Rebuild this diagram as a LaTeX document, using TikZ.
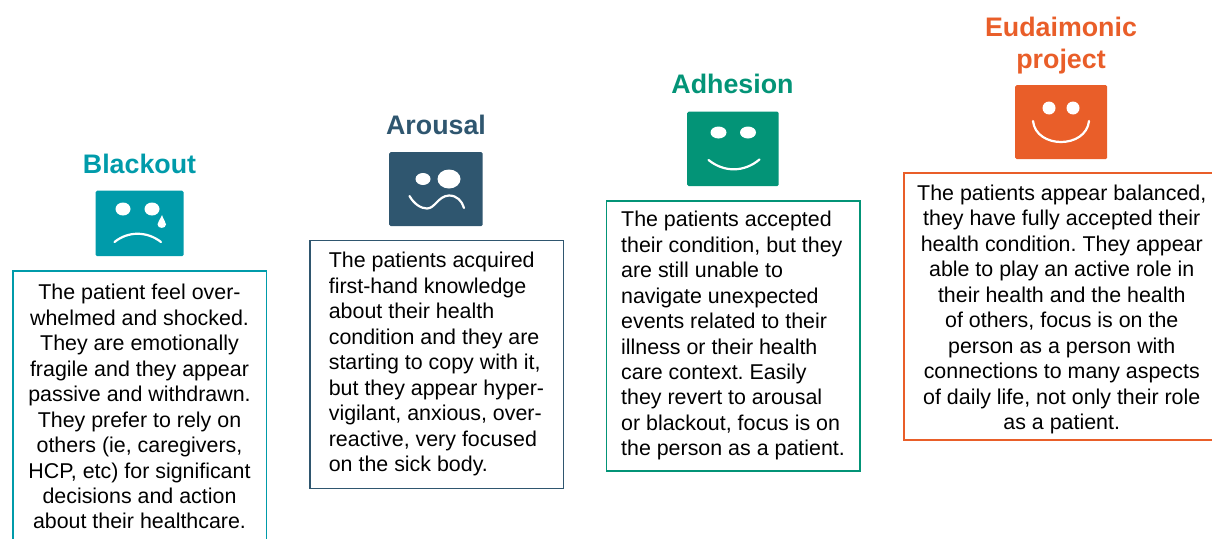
\documentclass[tikz,border=0pt]{standalone}
\usepackage{fontspec}
\setmainfont{Liberation Sans}
\definecolor{cteal}{HTML}{009BAA}
\definecolor{cnavy}{HTML}{2F566F}
\definecolor{cgreen}{HTML}{039477}
\definecolor{corange}{HTML}{E95E29}
\tikzset{
  title/.style={font=\fontsize{26.8}{32.5}\selectfont\bfseries, inner sep=0pt, anchor=base, align=center},
  icon/.style={fill=#1, rounded corners=1.5pt, inner sep=0pt, anchor=north west},
  textbox/.style={draw=#1, line width=1.5pt, anchor=north west, minimum width=253.5pt, inner sep=0pt,
     font=\fontsize{21.4}{25.45}\selectfont\frenchspacing, text=black},
  eye/.style={fill=white},
  mouth/.style={draw=white, line width=2.2pt, line cap=round}
}
\begin{document}
\begin{tikzpicture}[x=1pt,y=-1pt]
\useasboundingbox (0,0) rectangle (1212,538);
\clip (0,0) rectangle (1212,538);
% Blackout
\node[title, text=cteal] (t1) at (139.5,173) {Blackout};
\node[icon=cteal, minimum width=88pt, minimum height=65.5pt] (i1) at (95.5,190.5) {};
\fill[eye] (123,209) ellipse (7.5 and 6.5);
\fill[eye] (152,209) ellipse (7.5 and 6.5);
\fill[eye] (162,215) .. controls (160,220) and (157.5,222) .. (157.5,224.5) .. controls (157.5,229) and (166,229) .. (166,224.5) .. controls (166,222) and (163.5,220) .. (162,215);
\draw[mouth] (114.5,242) .. controls (128,231) and (147,231) .. (161,242);
\node[textbox=cteal, minimum height=272pt, align=center] (b1) at (12,270) {The patient feel over-\\whelmed and shocked.\\They are emotionally\\fragile and they appear\\passive and withdrawn.\\They prefer to rely on\\others (ie, caregivers,\\HCP, etc) for significant\\decisions and action\\about their healthcare.};
% Arousal
\node[title, text=cnavy] (t2) at (436,134) {Arousal};
\node[icon=cnavy, minimum width=93.5pt, minimum height=74pt] (i2) at (389,152) {};
\fill[eye] (423,179) ellipse (7.5 and 6);
\fill[eye] (449,179) ellipse (11.5 and 9.5);
\draw[mouth] (409.5,196) .. controls (414,204) and (421,208.5) .. (427,208.5) .. controls (435,208.5) and (438,196) .. (449,195.5) .. controls (457,195.5) and (462,201) .. (464,208);
\node[textbox=cnavy, minimum height=248pt, align=left] (b2) at (309,239.5) {The patients acquired\\first-hand knowledge\\about their health\\condition and they are\\starting to copy with it,\\but they appear hyper-\\vigilant, anxious, over-\\reactive, very focused\\on the sick body.};
% Adhesion
\node[title, text=cgreen] (t3) at (732.5,93) {Adhesion};
\node[icon=cgreen, minimum width=91.5pt, minimum height=74.5pt] (i3) at (687,111.5) {};
\fill[eye] (718.5,132.5) ellipse (8 and 6);
\fill[eye] (748,132.5) ellipse (8 and 6);
\draw[mouth] (708.5,160) .. controls (724,172.5) and (744,172.5) .. (759.5,159.5);
\node[textbox=cgreen, minimum height=270pt, align=left] (b3) at (605.5,200) {The patients accepted\\their condition, but they\\are still unable to\\navigate unexpected\\events related to their\\illness or their health\\care context. Easily\\they revert to arousal\\or blackout, focus is on\\the person as a patient.};
% Eudaimonic
\node[title, text=corange] (t4) at (1061,68.5) {Eudaimonic\\project};
\node[icon=corange, minimum width=92pt, minimum height=74pt] (i4) at (1015,85) {};
\fill[eye] (1049,108) circle (6.5);
\fill[eye] (1073,108) circle (6.5);
\draw[mouth] (1033,121) .. controls (1036,149) and (1086,149) .. (1089,121);
\node[textbox=corange, minimum width=316pt, minimum height=267pt, align=center] (b4) at (903,172) {\rule{0pt}{22pt}The patients appear balanced,\\they have fully accepted their\\health condition. They appear\\able to play an active role in\\their health and the health\\of others, focus is on the\\person as a person with\\connections to many aspects\\of daily life, not only their role\\as a patient.};
\end{tikzpicture}
\end{document}
